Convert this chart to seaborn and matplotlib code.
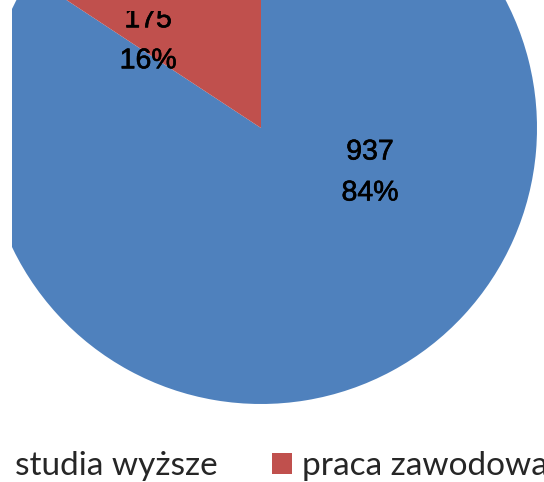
import matplotlib
matplotlib.use("Agg")
import matplotlib.pyplot as plt
import matplotlib.patheffects as pe
from matplotlib.patches import Rectangle
import seaborn as sns

# ---- data ----
categories = ["studia wyższe", "praca zawodowa"]
counts = [937, 175]
colors_hex = ["#4F81BD", "#C0504D"]

sns.set_theme(style="white")
plt.rcParams["font.family"] = ["Liberation Sans", "DejaVu Sans"]
palette = sns.color_palette(colors_hex)

W, H = 544, 482
fig = plt.figure(figsize=(W / 100, H / 100), dpi=100)

# plot area (pixels): visible region is cropped at the left and top
left_px, top_px = 12, 11
ax = fig.add_axes([left_px / W, 0, (W - left_px) / W, (H - top_px) / H])

wedges, _ = ax.pie(counts, colors=palette, startangle=90, counterclock=False,
                   radius=1.0, wedgeprops=dict(linewidth=0))

# map pie (radius 1 at origin) to pixel centre (261,128 from top), radius 276 px
cx, cy, r_px = 261, 128, 276
ax.set_aspect("auto")
ax.set_xlim((left_px - cx) / r_px, (W - cx) / r_px)
ax.set_ylim(-(H - cy) / r_px, (cy - top_px) / r_px)
ax.set_frame_on(False)

total = sum(counts)
label_pos = [(0.395, -0.163), (-0.409, 0.316)]
for c, (lx, ly) in zip(counts, label_pos):
    ax.text(lx, ly, f"{c}\n{round(100 * c / total)}%", ha="center", va="center",
            fontsize=20.5, color="black", linespacing=1.75, clip_on=True,
            path_effects=[pe.withStroke(linewidth=0.45, foreground="black")])

fs = 24
leg = fig.legend(wedges, categories, loc="center left",
                 bbox_to_anchor=(-15 / W, 1 - 466 / H), ncol=2, frameon=False,
                 prop=dict(family=["Lato", "DejaVu Sans"], size=fs),
                 handlelength=0.6, handleheight=0.6, handletextpad=0.3,
                 columnspacing=1.62, borderaxespad=0, borderpad=0)

# white margin on the left (crop of the original chart area)
fig.add_artist(Rectangle((0, 0), left_px / W, 1, transform=fig.transFigure,
                         facecolor="white", edgecolor="none", zorder=10))

fig.savefig("out.png", dpi=100, facecolor="white")
